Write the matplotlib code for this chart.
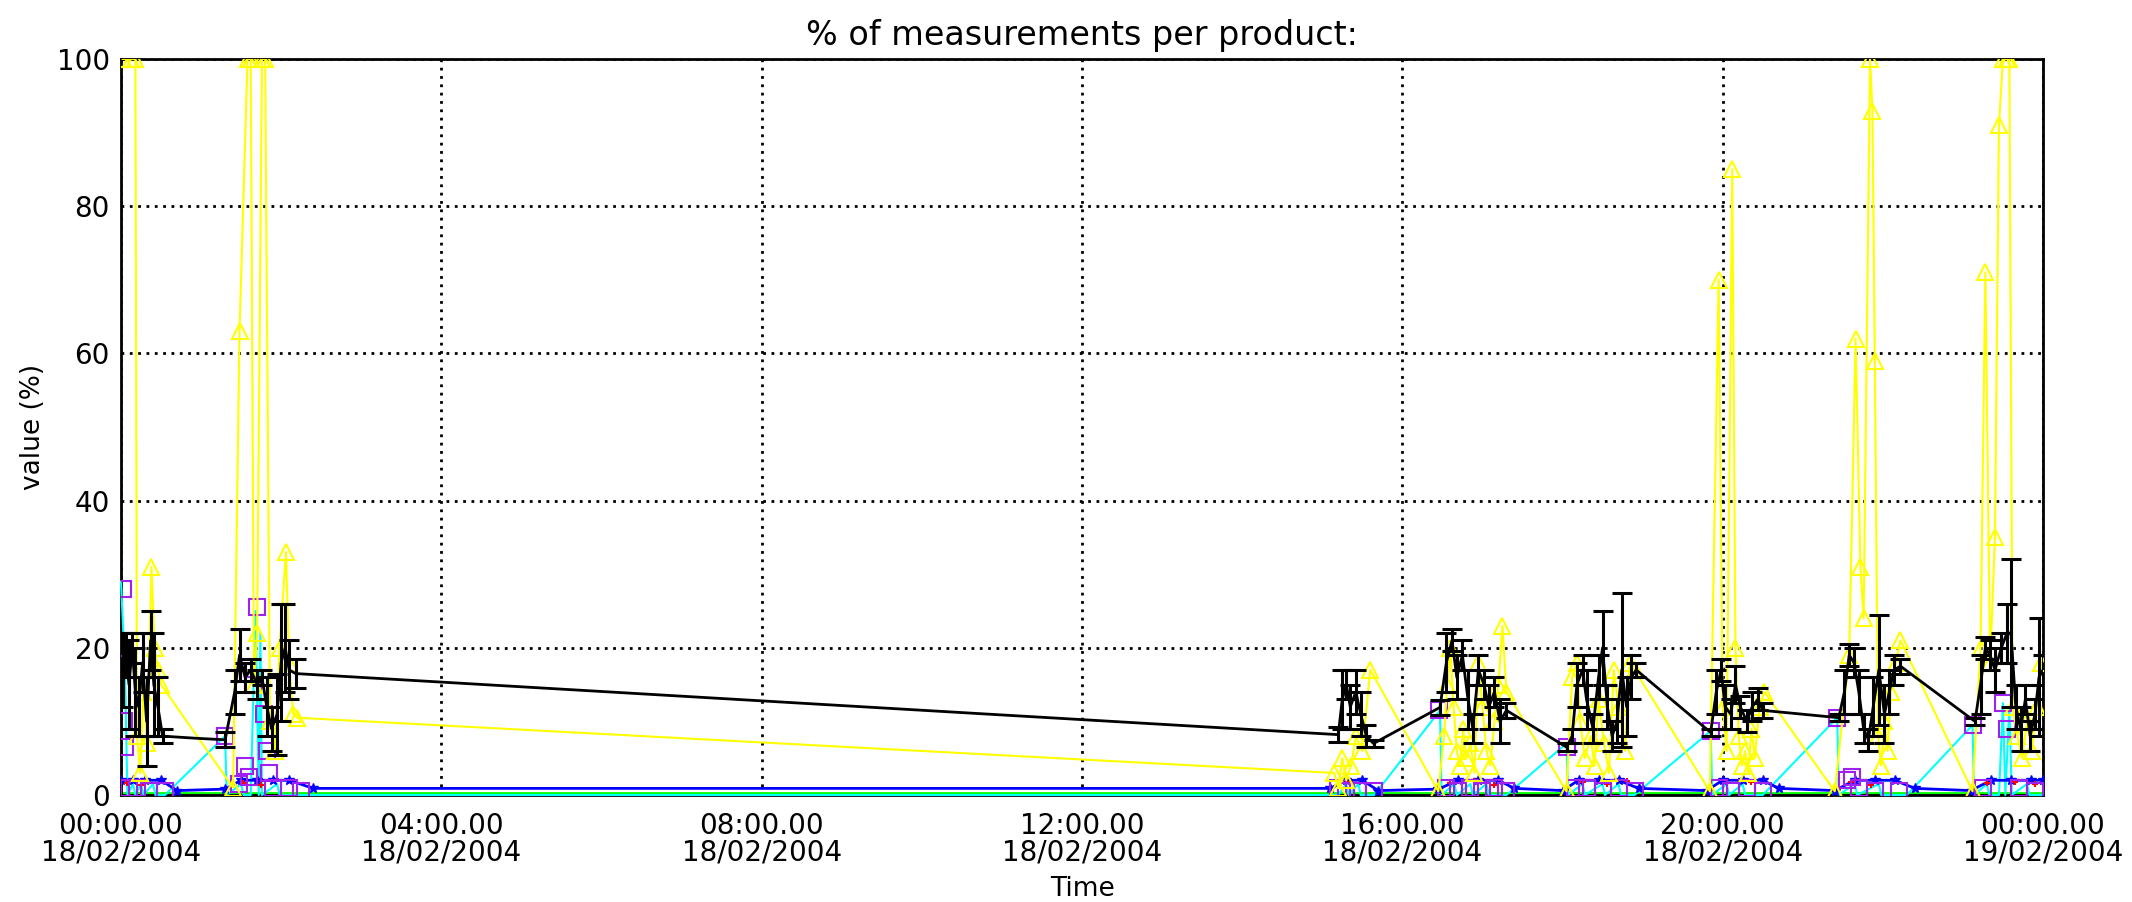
import numpy as np
import matplotlib
matplotlib.use("Agg")
import matplotlib.pyplot as plt

# time in hours after 00:00 18/02/2004
black_t = [0.02, 0.06, 0.10, 0.14, 0.18, 0.22, 0.27, 0.32, 0.37, 0.41, 0.46, 0.52, 0.95,
           1.30, 1.42, 1.48, 1.55, 1.62, 1.70, 1.76, 1.82, 1.88, 1.95, 2.00, 2.05, 2.10, 2.18,
           15.20, 15.25, 15.30, 15.35, 15.42, 15.48, 15.55, 15.64,
           16.47, 16.55, 16.62, 16.68, 16.75, 16.82, 16.88, 16.95, 17.02, 17.08, 17.15, 17.22, 17.30,
           18.05, 18.12, 18.18, 18.25, 18.30, 18.38, 18.45, 18.50, 18.56, 18.62, 18.68, 18.74, 18.80, 18.86, 18.92,
           19.85, 19.92, 19.98, 20.03, 20.10, 20.16, 20.22, 20.30, 20.37, 20.44, 20.50,
           21.45, 21.52, 21.58, 21.64, 21.70, 21.76, 21.82, 21.88, 21.95, 22.02, 22.08, 22.14, 22.22,
           23.15, 23.22, 23.28, 23.34, 23.40, 23.48, 23.55, 23.60, 23.66, 23.72, 23.78, 23.84, 23.90, 23.95, 24.00]
black_v = [17, 19, 15, 20, 14, 12, 18, 10, 21, 15, 12, 8, 7.7,
           7.5, 14, 19, 16, 17, 15, 16, 12, 9, 11, 18, 20, 17, 16.5,
           8.2, 13, 15, 12, 14, 11, 8, 7.0,
           11.9, 18, 21, 16, 19, 13, 9, 17, 15, 12, 14, 10, 11.5,
           6.5, 8, 15, 17, 13, 9, 16, 20, 12, 8, 10, 17, 12, 16, 17,
           8.5, 14, 17, 12, 11, 15, 12, 10, 12, 13, 11.5,
           10.5, 14, 19, 18, 14, 9, 7.5, 12, 17, 11, 14, 17, 17.5,
           10, 15, 20, 19, 17, 20, 22, 22, 12, 9, 13, 8, 11, 16, 17]
black_err = [5, 3, 6, 2, 6, 4, 4, 6, 4, 7, 4, 1, 0,
             1, 3, 3.5, 2, 1.5, 2, 1, 4, 3, 5.5, 8, 6, 4, 2,
             1, 4, 2, 3, 3, 3, 1.5, 0.5,
             1, 4, 1.5, 3, 2, 4, 2, 2, 2, 3, 2, 3, 1,
             0.5, 1, 3, 2, 4, 2, 3, 5, 3, 2, 3, 10.5, 4, 3, 1,
             0.5, 3, 1.5, 3, 2, 2.5, 1.5, 1.5, 2, 1.5, 1,
             0.5, 3, 1.5, 2, 3, 2, 1.5, 4, 7.5, 4, 3, 2, 1,
             0.5, 4, 1.5, 2, 3, 2, 4, 10, 3, 3, 2, 2, 2, 8, 2]

yellow_t = [0.02, 0.12, 0.18, 0.20, 0.24, 0.28, 0.33, 0.38, 0.42, 0.46, 0.50,
            1.40, 1.48, 1.58, 1.62, 1.66, 1.70, 1.76, 1.80, 1.86, 1.92, 1.98, 2.06, 2.10, 2.15, 2.20,
            15.15, 15.20, 15.25, 15.30, 15.36, 15.42, 15.50, 15.60,
            16.45, 16.52, 16.56, 16.60, 16.64, 16.68, 16.72, 16.76, 16.80, 16.85, 16.90, 16.95, 17.00,
            17.05, 17.10, 17.15, 17.20, 17.25, 17.30,
            18.05, 18.12, 18.18, 18.22, 18.28, 18.35, 18.40, 18.45, 18.52, 18.58, 18.64, 18.70, 18.78, 18.84, 18.90,
            19.84, 19.95, 20.00, 20.05, 20.12, 20.16, 20.20, 20.24, 20.28, 20.32, 20.36, 20.40, 20.46, 20.52,
            21.40, 21.58, 21.66, 21.72, 21.76, 21.84, 21.87, 21.90, 21.94, 21.98, 22.02, 22.06, 22.10, 22.16, 22.22,
            23.12, 23.22, 23.28, 23.34, 23.40, 23.45, 23.50, 23.55, 23.58, 23.62, 23.68, 23.74, 23.80, 23.86, 23.92, 23.98]
yellow_v = [100, 100, 100, 8, 3, 14, 7, 31, 20, 17, 15,
            1, 63, 100, 100, 15, 22, 100, 100, 10, 6, 20, 33, 18, 11, 10.5,
            3, 1, 5, 2, 4, 8, 6, 17,
            0.5, 8, 15, 20, 12, 6, 4, 9, 5, 7, 3, 18, 12,
            6, 4, 10, 15, 23, 14,
            0.5, 16, 18, 10, 5, 8, 4, 13, 7, 3, 17, 12, 6, 18, 17,
            0.5, 70, 12, 6, 85, 20, 8, 4, 6, 3, 9, 5, 12, 14,
            0.5, 19, 62, 31, 24, 100, 93, 59, 8, 4, 10, 6, 14, 18, 21,
            0.5, 20, 71, 18, 35, 91, 100, 100, 100, 12, 8, 5, 10, 6, 12, 18]

purple_t = [0.02, 0.03, 0.04, 0.05, 0.10, 0.20, 0.35, 0.55,
            1.30, 1.47, 1.55, 1.60, 1.65, 1.70, 1.78, 1.82, 1.85, 1.90, 2.10, 2.25,
            15.20, 15.30, 15.45, 15.65,
            16.46, 16.55, 16.70, 16.85, 17.00, 17.15, 17.30,
            18.05, 18.15, 18.30, 18.50, 18.70, 18.90,
            19.85, 19.95, 20.10, 20.30, 20.50,
            21.43, 21.55, 21.62, 21.70, 21.90, 22.20,
            23.12, 23.25, 23.50, 23.55, 23.70, 23.90]
purple_v = [28, 20, 10, 6.5, 1, 1, 0.5, 0.5,
            8, 1.5, 4, 2.5, 15, 25.5, 11, 6, 3, 1, 1, 0.5,
            1, 0.5, 0.5, 0.5,
            11.5, 1, 0.5, 1, 0.5, 1, 0.5,
            6.5, 1, 1, 0.5, 1, 0.5,
            8.7, 1, 0.5, 1, 0.5,
            10.5, 2, 2.5, 1, 0.5, 0.5,
            9.5, 1, 12.5, 9, 1, 0.5]

cyan_t = [0.00, 0.05, 0.08, 0.15, 0.18, 0.25, 0.28, 0.40, 0.43, 0.55,
          1.30, 1.32, 1.50, 1.53, 1.62, 1.68, 1.72, 1.74, 1.76, 1.95, 1.98, 2.20,
          15.20, 15.30, 15.33, 15.45, 15.48, 15.65,
          16.47, 16.49, 16.65, 16.68, 16.85, 16.88, 17.05, 17.08, 17.30,
          18.05, 18.07, 18.25, 18.28, 18.50, 18.53, 18.70, 18.73, 18.90,
          19.85, 19.87, 20.05, 20.08, 20.25, 20.28, 20.50,
          21.43, 21.45, 21.65, 21.68, 21.95, 21.98, 22.30,
          23.12, 23.14, 23.30, 23.33, 23.45, 23.50, 23.53, 23.58, 23.61, 23.80, 23.83, 24.00]
cyan_v = [29, 17, 0, 1.5, 0, 1.5, 0, 1.5, 0, 0,
          8, 0, 1.5, 0, 0, 25, 0, 22, 0, 1.5, 0, 0,
          0, 1.5, 0, 1.5, 0, 0,
          11.5, 0, 1.5, 0, 1.5, 0, 1.5, 0, 0,
          7, 0, 1.5, 0, 1.5, 0, 1.5, 0, 0,
          8.7, 0, 1.5, 0, 1.5, 0, 0,
          10.5, 0, 1.5, 0, 1.5, 0, 0,
          9.5, 0, 1.5, 0, 0, 12.5, 0, 12, 0, 1.5, 0, 0]

blue_t = [0.0, 0.15, 0.30, 0.50, 0.70, 1.30, 1.50, 1.70, 1.90, 2.10, 2.40,
          15.10, 15.30, 15.50, 15.70, 16.45, 16.70, 16.95, 17.20, 17.40, 18.00, 18.20, 18.45, 18.70,
          18.95, 19.80, 20.00, 20.25, 20.50, 20.70, 21.40, 21.65, 21.90, 22.15, 22.40, 23.10, 23.35,
          23.60, 23.85, 24.00]
blue_v = [2, 2, 2, 2, 0.6, 0.8, 2, 2, 2, 2, 0.9,
          0.9, 2, 2, 0.6, 0.8, 2, 2, 2, 0.9, 0.6, 2, 2, 2,
          0.9, 0.6, 2, 2, 2, 0.9, 0.6, 2, 2, 2, 0.9, 0.6, 2,
          2, 2, 2]

red_t = [0.08, 0.25, 1.52, 1.75, 15.35, 16.60, 16.90, 17.15, 18.25, 18.55, 18.80,
         20.05, 20.35, 21.60, 21.85, 23.30, 23.65, 23.90]
red_v = [1.6, 1.4, 1.6, 1.4, 1.7, 1.6, 1.9, 1.4, 1.7, 1.5, 1.9,
         1.6, 1.8, 1.7, 1.4, 1.6, 1.8, 1.5]

green_t = [0.0, 24.0]
green_v = [0.25, 0.25]

tick_hours = [0, 4, 8, 12, 16, 20, 24]
tick_labels = ["00:00.00\n18/02/2004", "04:00.00\n18/02/2004", "08:00.00\n18/02/2004",
               "12:00.00\n18/02/2004", "16:00.00\n18/02/2004", "20:00.00\n18/02/2004",
               "00:00.00\n19/02/2004"]

fig = plt.figure(figsize=(21.32, 9.02), dpi=100)
ax = fig.add_axes([121 / 2132, 1 - 795 / 902, (2043 - 121) / 2132, (795 - 59) / 902])

ax.plot(green_t, green_v, color="#00ff00", lw=2, zorder=2)
ax.plot(cyan_t, cyan_v, color="#00ffff", lw=1.5, zorder=3, clip_on=False)
ax.plot(blue_t, blue_v, color="#0000ff", lw=2, marker="*", ms=7, zorder=3)
ax.plot(red_t, red_v, ls="none", color="#ff0000", marker="+", ms=5, mew=1.5, zorder=4)
ax.plot(purple_t, purple_v, ls="none", marker="s", ms=11, mfc="none", mec="#a020f0", mew=1.5, zorder=4)
ax.plot(yellow_t, yellow_v, color="#ffff00", lw=1.5, marker="^", ms=11, mfc="none",
        mec="#ffff00", mew=1.5, zorder=5)

bt = np.array(black_t)
bv = np.array(black_v)
be = np.array(black_err)
ax.plot(bt, bv, color="black", lw=2, zorder=6)
m = be > 0
ax.errorbar(bt[m], bv[m], yerr=be[m], fmt="none", ecolor="black", elinewidth=2.2,
            capsize=7, capthick=2.2, zorder=6)

ax.set_xlim(0, 24)
ax.set_ylim(0, 100)
ax.set_xticks(tick_hours)
ax.set_xticklabels(tick_labels, fontsize=20, linespacing=0.95)
ax.set_yticks([0, 20, 40, 60, 80, 100])
ax.tick_params(length=0, pad=8)
ax.tick_params(axis="x", pad=12)
ax.grid(True, color="black", linestyle=(0, (1, 2)), lw=2)
for s in ax.spines.values():
    s.set_linewidth(2)
for lab in ax.get_yticklabels():
    lab.set_fontsize(20)

ax.set_title("% of measurements per product:", fontsize=24, pad=10)
ax.set_xlabel("Time", fontsize=19, labelpad=7)
ax.set_ylabel("value (%)", fontsize=19, labelpad=8)

fig.savefig("out.png", dpi=100)
